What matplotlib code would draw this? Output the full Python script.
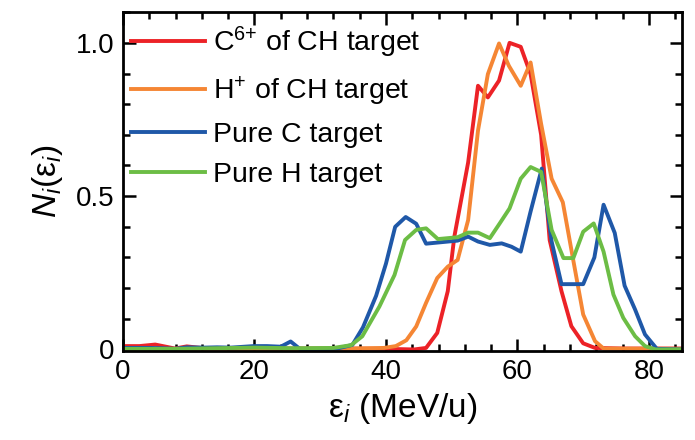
import numpy as np
import matplotlib
matplotlib.use("Agg")
import matplotlib.pyplot as plt
from matplotlib.ticker import MultipleLocator, FuncFormatter

plt.rcParams['font.family'] = ['Liberation Sans', 'DejaVu Sans']
plt.rcParams['mathtext.fontset'] = 'custom'
plt.rcParams['mathtext.rm'] = 'Liberation Sans'
plt.rcParams['mathtext.it'] = 'Liberation Sans:italic'

# C6+ of CH target
red_x = [0, 2.5, 4.9, 7.9, 9.7, 12.3, 20, 30, 40, 44.3, 46.1, 47.8, 49.4, 50.4, 52.5, 54.0, 55.5, 57.2,
         58.8, 60.5, 62.0, 63.6, 64.9, 66.7, 68.2, 70.0, 71.8, 76, 85]
red_y = [0.011, 0.011, 0.016, 0.003, 0.010, 0.004, 0.003, 0.003, 0.002, 0.0, 0.005, 0.054, 0.19, 0.368,
         0.61, 0.86, 0.822, 0.877, 1.0, 0.987, 0.898, 0.70, 0.357, 0.19, 0.076, 0.02, 0.005, 0.003, 0.003]

# H+ of CH target
orange_x = [0, 10, 20, 27, 34, 39.7, 41.5, 43.1, 44.6, 46.1, 47.8, 49.4, 50.9, 52.5, 54.0, 55.5, 57.2,
            58.7, 60.5, 62.0, 63.6, 65.2, 66.9, 68.5, 70.0, 71.8, 73.1, 85]
orange_y = [0.002, 0.002, 0.002, 0.002, 0.003, 0.005, 0.011, 0.03, 0.075, 0.152, 0.233, 0.27, 0.292, 0.422,
            0.714, 0.898, 0.998, 0.925, 0.86, 0.936, 0.736, 0.557, 0.48, 0.29, 0.114, 0.027, 0.003, 0.002]

# Pure C target
blue_x = [0, 2, 4, 6, 7.9, 9.7, 12.3, 14.3, 16.4, 19.9, 21.9, 24.0, 25.5, 27.0, 30.1, 32.6, 34.9, 36.5,
          38.5, 40.0, 41.4, 43.0, 44.6, 46.1, 50.9, 52.5, 54.0, 55.8, 57.6, 59.1, 60.5, 62.0, 63.7, 65.2,
          66.7, 70.0, 71.7, 73.1, 74.8, 76.3, 77.9, 79.4, 81.2, 85]
blue_y = [0.005, 0.005, 0.005, 0.004, 0.002, 0.007, 0.006, 0.007, 0.006, 0.011, 0.011, 0.009, 0.026, 0.0,
          0.0, 0.003, 0.015, 0.072, 0.175, 0.28, 0.40, 0.432, 0.41, 0.345, 0.355, 0.368, 0.352, 0.341,
          0.346, 0.335, 0.319, 0.45, 0.59, 0.352, 0.213, 0.213, 0.30, 0.472, 0.38, 0.208, 0.13, 0.049,
          0.002, 0.0]

# Pure H target
green_x = [0, 8, 14, 20, 26, 32, 34.7, 36.4, 39.0, 41.3, 42.9, 44.6, 46.1, 47.9, 50.9, 52.5, 54.0, 55.8,
           57.3, 58.8, 60.5, 62.0, 63.6, 65.2, 67.0, 68.5, 70.0, 71.6, 73.1, 74.6, 76.1, 77.9, 79.4, 81.0, 85]
green_y = [0.002, 0.002, 0.004, 0.006, 0.004, 0.005, 0.014, 0.043, 0.14, 0.243, 0.357, 0.39, 0.395, 0.36,
           0.366, 0.381, 0.381, 0.363, 0.411, 0.46, 0.557, 0.595, 0.579, 0.39, 0.298, 0.298, 0.384, 0.411,
           0.319, 0.179, 0.103, 0.043, 0.011, 0.0, 0.0]

labels = [r'C$^{\mathrm{6{+}}}$ of CH target', r'H$^{\mathrm{{+}}}$ of CH target', 'Pure C target', 'Pure H target']
colors = ['#ec2227', '#f58634', '#1f58a8', '#6cbd45']

fig = plt.figure(figsize=(6.95, 4.4), dpi=100)
ax = fig.add_axes([0.177, 0.2023, 0.804, 0.770])

for xs, ys, lab, c in zip([red_x, orange_x, blue_x, green_x], [red_y, orange_y, blue_y, green_y], labels, colors):
    ax.plot(xs, ys, color=c, lw=2.8, label=lab)

ax.set_xlim(0, 85)
ax.set_ylim(-0.005, 1.1)
ax.xaxis.set_major_locator(MultipleLocator(20))
ax.xaxis.set_minor_locator(MultipleLocator(4))
ax.yaxis.set_major_locator(MultipleLocator(0.5))
ax.yaxis.set_minor_locator(MultipleLocator(0.1))
ax.yaxis.set_major_formatter(FuncFormatter(lambda v, p: '0' if abs(v) < 1e-9 else f'{v:.1f}'))

ax.tick_params(which='both', direction='in', top=True, right=True, width=1.8, labelsize=20, pad=6)
ax.tick_params(which='major', length=9)
ax.tick_params(which='minor', length=5)
for s in ax.spines.values():
    s.set_linewidth(2.0)

ax.set_xlabel(r'ε$_{\mathit{i}}$ (MeV/u)', fontsize=24, labelpad=4)
ax.set_ylabel(r'$\mathit{N}_{\mathit{i}}$(ε$_{\mathit{i}}$)', fontsize=24, labelpad=8)

ax.legend(loc='upper left', bbox_to_anchor=(0.006, 0.975), frameon=False, fontsize=20.5,
          handlelength=2.6, handletextpad=0.3, labelspacing=0.5, borderaxespad=0.0, borderpad=0.15)

fig.savefig('out.png', dpi=100)
